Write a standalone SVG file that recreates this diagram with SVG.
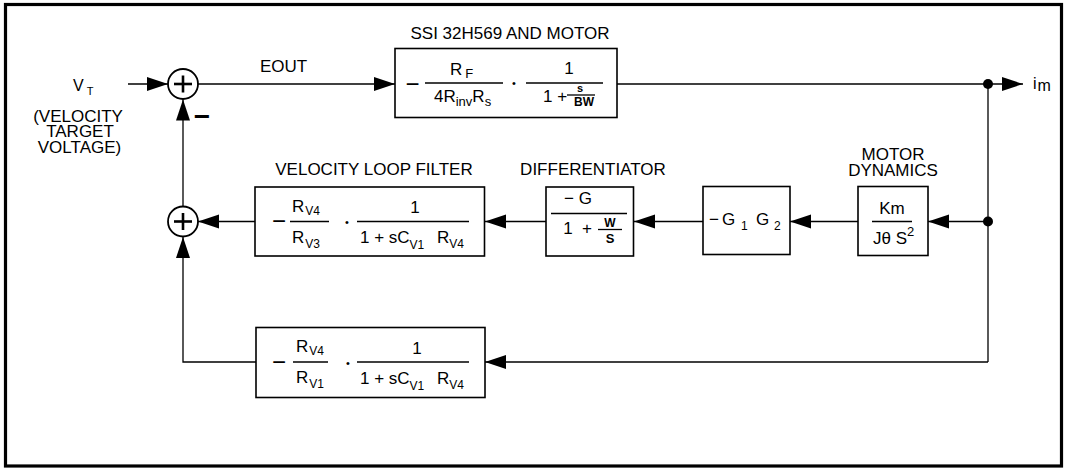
<svg xmlns="http://www.w3.org/2000/svg" width="1066" height="469" viewBox="0 0 1066 469">
<style>
text{font-family:"Liberation Sans",Arial,Helvetica,sans-serif;fill:#000}
.lbl{font-size:17px}
.eq{font-size:17px}
.sub{font-size:12px}
.mid{text-anchor:middle}
.box{fill:#fff;stroke:#000;stroke-width:1.6}
.ln{fill:none;stroke:#000;stroke-width:1.3}
.fr{stroke:#000;stroke-width:1.3}
.sum{fill:#fff;stroke:#000;stroke-width:1.8}
.plus{stroke:#000;stroke-width:2.6}
</style>
<defs>
<marker id="ah" markerUnits="userSpaceOnUse" markerWidth="22" markerHeight="15" refX="21" refY="7" orient="auto">
<path d="M0,0 L21,7 L0,14 z" fill="#000"/>
</marker>
</defs>
<rect x="5.5" y="4.5" width="1056" height="461.5" fill="#fff" stroke="#000" stroke-width="3.2"/>

<g id="connectors">
<line class="ln" x1="128" y1="84" x2="168" y2="84" marker-end="url(#ah)"/>
<line class="ln" x1="198" y1="84" x2="395" y2="84" marker-end="url(#ah)"/>
<line class="ln" x1="617" y1="84" x2="988" y2="84"/>
<line class="ln" x1="988" y1="84" x2="1023" y2="84" marker-end="url(#ah)"/>
<line class="ln" x1="988" y1="84" x2="988" y2="362"/>
<line class="ln" x1="988" y1="221.5" x2="928" y2="221.5" marker-end="url(#ah)"/>
<line class="ln" x1="858" y1="221.5" x2="790" y2="221.5" marker-end="url(#ah)"/>
<line class="ln" x1="703" y1="221.5" x2="634" y2="221.5" marker-end="url(#ah)"/>
<line class="ln" x1="546" y1="221.5" x2="485" y2="221.5" marker-end="url(#ah)"/>
<line class="ln" x1="255" y1="221.5" x2="198" y2="221.5" marker-end="url(#ah)"/>
<line class="ln" x1="183" y1="206.5" x2="183" y2="99.5" marker-end="url(#ah)"/>
<line class="ln" x1="988" y1="362" x2="485" y2="362" marker-end="url(#ah)"/>
<path class="ln" d="M256,362 H183 V237" marker-end="url(#ah)"/>
<circle cx="988" cy="84" r="5" fill="#000"/>
<circle cx="988" cy="221.5" r="5" fill="#000"/>
</g>

<g id="input">
<text class="lbl" x="73" y="90.5" style="font-size:16px">V<tspan dx="3" dy="4.5" style="font-size:11px">T</tspan></text>
<text class="lbl mid" x="78" y="121.5">(VELOCITY</text>
<text class="lbl mid" x="80" y="137">TARGET</text>
<text class="lbl mid" x="79.5" y="152.5">VOLTAGE)</text>
</g>

<g id="sum1">
<circle class="sum" cx="183" cy="84" r="15"/>
<line class="plus" x1="174" y1="84" x2="192" y2="84"/>
<line class="plus" x1="183" y1="75.5" x2="183" y2="92.5"/>
<text x="202" y="126" class="mid" style="font-size:28px;font-weight:bold">−</text>
</g>

<g id="sum2">
<circle class="sum" cx="183" cy="221.5" r="15"/>
<line class="plus" x1="174" y1="221.5" x2="192" y2="221.5"/>
<line class="plus" x1="183" y1="213" x2="183" y2="230"/>
</g>

<text class="lbl" x="260" y="72">EOUT</text>

<g id="ssi">
<text class="lbl mid" x="510" y="38.5">SSI 32H569 AND MOTOR</text>
<rect class="box" x="395" y="48.5" width="222" height="69"/>
<text class="mid" x="412.5" y="91.5" style="font-size:24px">−</text>
<line class="fr" x1="425" y1="83" x2="503" y2="83"/>
<text class="eq" x="450" y="75">R<tspan class="sub" dx="3" dy="3" style="font-size:13px">F</tspan></text>
<text class="eq" x="434" y="102">4R<tspan style="font-size:13px" dy="4">inv</tspan><tspan dy="-4">R</tspan><tspan style="font-size:13px" dy="4">s</tspan></text>
<text class="mid" x="514" y="87" style="font-size:11px">•</text>
<line class="fr" x1="526" y1="83" x2="603" y2="83"/>
<text class="eq mid" x="569" y="74">1</text>
<text class="eq" x="543" y="102">1 +</text>
<text class="mid" x="580" y="92" style="font-size:11px;font-weight:bold">s</text>
<line class="fr" x1="567" y1="95" x2="595" y2="95"/>
<text class="mid" x="584" y="105.5" style="font-size:12px;font-weight:bold">BW</text>
</g>

<g id="im">
<text x="1033" y="89" style="font-size:16px">i<tspan dx="1" dy="2">m</tspan></text>
</g>

<g id="motor">
<text class="lbl mid" x="893" y="159.5">MOTOR</text>
<text class="lbl mid" x="893" y="175.5">DYNAMICS</text>
<rect class="box" x="858" y="186.5" width="70" height="69"/>
<text class="eq mid" x="892" y="214">Km</text>
<line class="fr" x1="872" y1="221.5" x2="912" y2="221.5"/>
<text class="eq" x="873" y="244">Jθ S<tspan style="font-size:13px" dy="-8">2</tspan></text>
</g>

<g id="gain">
<rect class="box" x="703" y="186.5" width="87" height="68"/>
<text class="eq" y="225"><tspan x="709" dy="0">−</tspan><tspan x="722">G</tspan><tspan x="741" dy="5" class="sub">1</tspan><tspan x="756" dy="-5">G</tspan><tspan x="774" dy="5" class="sub">2</tspan></text>
</g>

<g id="diff">
<text class="lbl mid" x="593" y="175">DIFFERENTIATOR</text>
<rect class="box" x="546" y="187" width="87.5" height="69"/>
<text class="eq" x="564" y="204">− G</text>
<line class="fr" x1="551" y1="213.5" x2="627" y2="213.5"/>
<text class="eq mid" x="568" y="233.5">1</text>
<text class="eq mid" x="587" y="233.5">+</text>
<text class="mid" x="610" y="227" style="font-size:12px;font-weight:bold">W</text>
<line class="fr" x1="598" y1="229.5" x2="622" y2="229.5"/>
<text class="mid" x="610" y="242.5" style="font-size:13px;font-weight:bold">S</text>
</g>

<g id="vlf">
<text class="lbl mid" x="374" y="175">VELOCITY LOOP FILTER</text>
<rect class="box" x="255" y="187" width="229.5" height="69"/>
<text class="mid" x="279" y="229" style="font-size:24px">−</text>
<line class="fr" x1="290" y1="221.5" x2="329" y2="221.5"/>
<text class="eq" x="292" y="212">R<tspan class="sub" dx="1" dy="3">V4</tspan></text>
<text class="eq" x="292" y="242.5">R<tspan class="sub" dx="1" dy="5">V3</tspan></text>
<text class="mid" x="347" y="226" style="font-size:11px">•</text>
<line class="fr" x1="357" y1="221.5" x2="469" y2="221.5"/>
<text class="eq mid" x="415" y="213">1</text>
<text class="eq" x="360" y="242.5">1 + sC<tspan class="sub" dy="6">V1</tspan></text>
<text class="eq" x="437" y="242.5">R<tspan class="sub" dy="5">V4</tspan></text>
</g>

<g id="prop">
<rect class="box" x="256" y="327.5" width="229" height="70"/>
<text class="mid" x="279" y="370" style="font-size:24px">−</text>
<line class="fr" x1="293" y1="362" x2="328" y2="362"/>
<text class="eq" x="296" y="352">R<tspan class="sub" dx="1" dy="3">V4</tspan></text>
<text class="eq" x="296" y="382.5">R<tspan class="sub" dx="1" dy="5">V1</tspan></text>
<text class="mid" x="348" y="367" style="font-size:11px">•</text>
<line class="fr" x1="357" y1="362" x2="469" y2="362"/>
<text class="eq mid" x="417" y="353.5">1</text>
<text class="eq" x="360" y="383.5">1 + sC<tspan class="sub" dy="6">V1</tspan></text>
<text class="eq" x="437" y="383.5">R<tspan class="sub" dy="5">V4</tspan></text>
</g>
</svg>
